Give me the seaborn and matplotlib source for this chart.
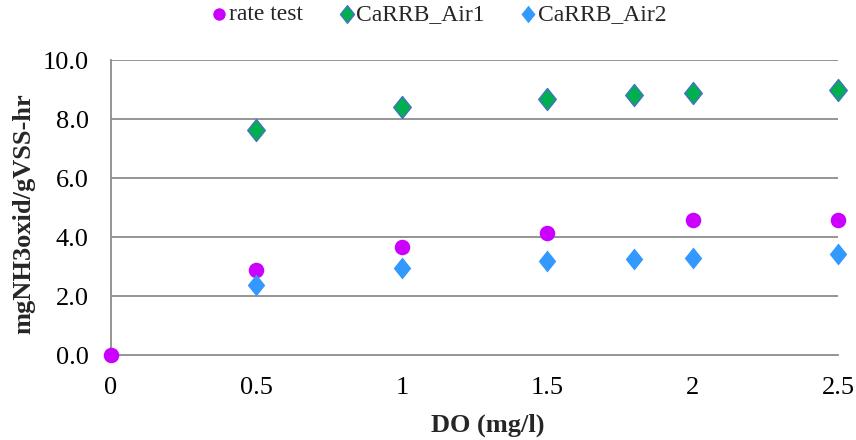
import matplotlib
matplotlib.use("Agg")
import matplotlib.pyplot as plt
from matplotlib.path import Path
import seaborn as sns
import pandas as pd

# Ammonia oxidation rate vs. dissolved oxygen
do_rate = [0, 0.5, 1.0, 1.5, 2.0, 2.5]
rate_test = [0.0, 2.88, 3.66, 4.14, 4.58, 4.59]

do_air = [0.5, 1.0, 1.5, 1.8, 2.0, 2.5]
air1 = [7.63, 8.40, 8.69, 8.81, 8.87, 8.98]
air2 = [2.38, 2.95, 3.19, 3.25, 3.30, 3.41]

x_ticks = [0, 0.5, 1, 1.5, 2, 2.5]
x_tick_labels = ["0", "0.5", "1", "1.5", "2", "2.5"]
y_ticks = [0, 2, 4, 6, 8, 10]

sns.set_theme(style="white")
plt.rcParams["font.family"] = ["Liberation Serif", "DejaVu Serif"]

fig = plt.figure(figsize=(8.56, 4.4), dpi=100)
ax = fig.add_axes([111 / 856, 85 / 440, (838 - 111) / 856, (355 - 60) / 440])

diamond = Path([(0, 1), (0.8, 0), (0, -1), (-0.8, 0), (0, 1)],
               [Path.MOVETO, Path.LINETO, Path.LINETO, Path.LINETO, Path.CLOSEPOLY])

df_rate = pd.DataFrame({"DO": do_rate, "rate": rate_test})
df_a1 = pd.DataFrame({"DO": do_air, "rate": air1})
df_a2 = pd.DataFrame({"DO": do_air, "rate": air2})

for y in y_ticks[1:]:
    ax.axhline(y, color="#8c8c8c", lw=1.3, zorder=0)

sns.scatterplot(data=df_rate, x="DO", y="rate", ax=ax, marker="o", s=125,
                color="#CC00FF", edgecolor="#CC00FF", linewidth=0,
                label="rate test", zorder=3, clip_on=False)
sns.scatterplot(data=df_a1, x="DO", y="rate", ax=ax, marker=diamond, s=250,
                color="#00B050", edgecolor="#4472C4", linewidth=1.0,
                label="CaRRB_Air1", zorder=3, clip_on=False)
sns.scatterplot(data=df_a2, x="DO", y="rate", ax=ax, marker=diamond, s=250,
                color="#3399FF", edgecolor="#3399FF", linewidth=0,
                label="CaRRB_Air2", zorder=3, clip_on=False)

ax.set_xlim(0, 2.5)
ax.set_ylim(0, 10)
ax.set_xticks(x_ticks)
ax.set_xticklabels(x_tick_labels)
ax.set_yticks(y_ticks)
ax.set_yticklabels([f"{v:.1f}" for v in y_ticks])
ax.tick_params(axis="both", length=0, labelsize=19, colors="black")
ax.tick_params(axis="x", pad=16)
ax.tick_params(axis="y", pad=16)

for side in ["top", "right"]:
    ax.spines[side].set_visible(False)
for side in ["left", "bottom"]:
    ax.spines[side].set_color("#8c8c8c")
    ax.spines[side].set_linewidth(1.3)

ax.set_xlabel("DO (mg/l)", fontsize=19, fontweight="bold", labelpad=10)
ax.set_ylabel("mgNH3oxid/gVSS-hr", fontsize=19, fontweight="bold", labelpad=5)
ax.xaxis.label.set_x(0.5186)
ax.yaxis.label.set_y(0.478)

leg = ax.legend(loc="center", bbox_to_anchor=(0.45, 1.156), ncol=3,
                frameon=False, fontsize=17, handletextpad=0.0,
                columnspacing=1.45, markerscale=0.8, borderaxespad=0,
                handlelength=0.8)

fig.savefig("out.png", dpi=100)
